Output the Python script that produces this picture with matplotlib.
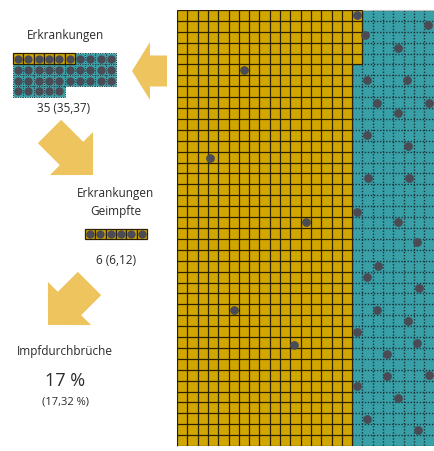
import numpy as np
import matplotlib.pyplot as plt
from matplotlib.patches import Rectangle, Polygon

plt.rcParams['font.family'] = ['Open Sans', 'DejaVu Sans']

# 1000 people: 25 columns x 40 rows, filled column by column
n_cols = 25
n_rows = 40
n_vacc = 685

# summary on the left
n_sick = 35
n_sick_vacc = 6
sick_label = "35 (35,37)"
vacc_label = "6 (6,12)"
share_label = "17 %"
share_exact = "(17,32 %)"

# infected people, position on the grid in cells (column, row)
vacc_dots_x = [17.48, 6.50, 3.20, 12.52, 5.53, 11.36]
vacc_dots_y = [0.46, 5.50, 13.58, 19.45, 27.52, 30.73]
unvacc_dots_x = [24.37, 18.25, 21.46, 18.45, 22.33, 19.42, 24.47, 21.46, 18.45, 22.43,
                 18.54, 22.52, 17.48, 21.46, 23.30, 19.51, 18.45, 23.50, 19.42, 22.43,
                 17.48, 23.30, 20.39, 20.39, 24.47, 17.48, 21.46, 18.45, 23.40]
unvacc_dots_y = [1.38, 2.29, 3.49, 6.42, 6.42, 8.53, 8.53, 9.45, 11.47, 12.48,
                 15.41, 15.41, 18.53, 19.45, 21.28, 23.49, 24.50, 25.50, 27.52, 28.53,
                 29.54, 30.55, 31.56, 33.58, 33.49, 34.50, 35.60, 37.52, 38.53]

gold = '#D2A600'
gold_edge = '#2a2000'
teal = '#39A0A8'
teal_edge = '#1c3438'
arrow_col = '#EDC45E'
dot_col = '#4A4B55'
txt_col = '#2b2b2b'

W, H = 434, 451
fig = plt.figure(figsize=(W / 100, H / 100), dpi=100)

# canvas in pixel units for the left-hand annotations
cv = fig.add_axes([0, 0, 1, 1])
cv.set_xlim(0, W)
cv.set_ylim(H, 0)
cv.axis('off')

cw, ch = 10.3, 10.9  # one cell in pixels


def block_arrow(tail, tip, shaft_w, head_w, head_len):
    tail = np.array(tail, float)
    tip = np.array(tip, float)
    d = tip - tail
    u = d / np.hypot(*d)
    n = np.array([-u[1], u[0]])
    base = tip - u * head_len
    pts = [tail + n * shaft_w / 2, base + n * shaft_w / 2, base + n * head_w / 2, tip,
           base - n * head_w / 2, base - n * shaft_w / 2, tail - n * shaft_w / 2]
    cv.add_patch(Polygon(pts, closed=True, fc=arrow_col, ec='none'))


def waffle(x0, y0, n, n_gold, per_row, h):
    for i in range(n):
        r, c = divmod(i, per_row)
        x, y = x0 + c * cw, y0 + r * h
        if i < n_gold:
            cv.add_patch(Rectangle((x, y), cw, h, fc=gold, ec=gold_edge, lw=0.9, zorder=3))
        else:
            cv.add_patch(Rectangle((x, y), cw, h, fc=teal, ec=teal_edge, lw=0.7, ls=(0, (1, 1.4)),
                                   zorder=2))
        cv.scatter(x + cw / 2, y + h / 2, s=36, color=dot_col, zorder=5, lw=0)


block_arrow((167, 71), (132, 71), 31, 58, 18)
block_arrow((49.5, 131.5), (93, 175), 33, 61, 30.4)
block_arrow((89.5, 283.5), (48, 325), 33, 61, 30.4)

cv.text(65, 35, "Erkrankungen", ha='center', va='center', fontsize=8.5, color=txt_col)
waffle(13, 53.3, n_sick, n_sick_vacc, 10, ch)
cv.text(64, 109, sick_label, ha='center', va='center', fontsize=8.5, color=txt_col)

cv.text(116, 193, "Erkrankungen", ha='center', va='center', fontsize=8.5, color=txt_col)
cv.text(116, 212, "Geimpfte", ha='center', va='center', fontsize=8.5, color=txt_col)
waffle(85, 229, n_sick_vacc, n_sick_vacc, n_sick_vacc, 10)
cv.text(116, 260, vacc_label, ha='center', va='center', fontsize=8.5, color=txt_col)

cv.text(65, 352, "Impfdurchbrüche", ha='center', va='center', fontsize=8.5, color=txt_col)
cv.text(65, 381, share_label, ha='center', va='center', fontsize=13, color=txt_col)
cv.text(65, 402, share_exact, ha='center', va='center', fontsize=8, color=txt_col)

# main grid
ax = fig.add_axes([177 / W, 5 / H, n_cols * cw / W, n_rows * ch / H])
ax.set_xlim(0, n_cols)
ax.set_ylim(n_rows, 0)
ax.set_xticks([])
ax.set_yticks([])
for s in ['bottom', 'right']:
    ax.spines[s].set_visible(False)
for s in ['top', 'left']:
    ax.spines[s].set_color('#c0c0c0')

full_cols, extra = divmod(n_vacc, n_rows)

# unvaccinated block: teal with dotted cell borders
ax.add_patch(Rectangle((0, 0), n_cols, n_rows, fc=teal, ec='none', zorder=1))
for c in range(full_cols, n_cols + 1):
    ax.plot([c, c], [0, n_rows], ls=(0, (1, 1.2)), lw=1, color=teal_edge, zorder=2)
for r in range(n_rows + 1):
    ax.plot([full_cols, n_cols], [r, r], ls=(0, (1, 1.2)), lw=1, color=teal_edge, zorder=2)

# vaccinated block: gold fill, then solid cell borders
outline = [(0, 0), (full_cols + 1, 0), (full_cols + 1, extra), (full_cols, extra),
           (full_cols, n_rows), (0, n_rows)]
ax.add_patch(Polygon(outline, closed=True, fc=gold, ec='none', zorder=3))
for c in range(full_cols + 2):
    top_len = n_rows if c <= full_cols else extra
    ax.plot([c, c], [0, top_len], lw=0.9, color=gold_edge, zorder=4, solid_capstyle='butt')
for r in range(n_rows + 1):
    right = full_cols + 1 if r <= extra else full_cols
    ax.plot([0, right], [r, r], lw=0.9, color=gold_edge, zorder=4, solid_capstyle='butt')

ax.scatter(vacc_dots_x, vacc_dots_y, s=40, color=dot_col, zorder=5, lw=0)
ax.scatter(unvacc_dots_x, unvacc_dots_y, s=40, color=dot_col, zorder=5, lw=0)

fig.savefig('out.png', dpi=100)
